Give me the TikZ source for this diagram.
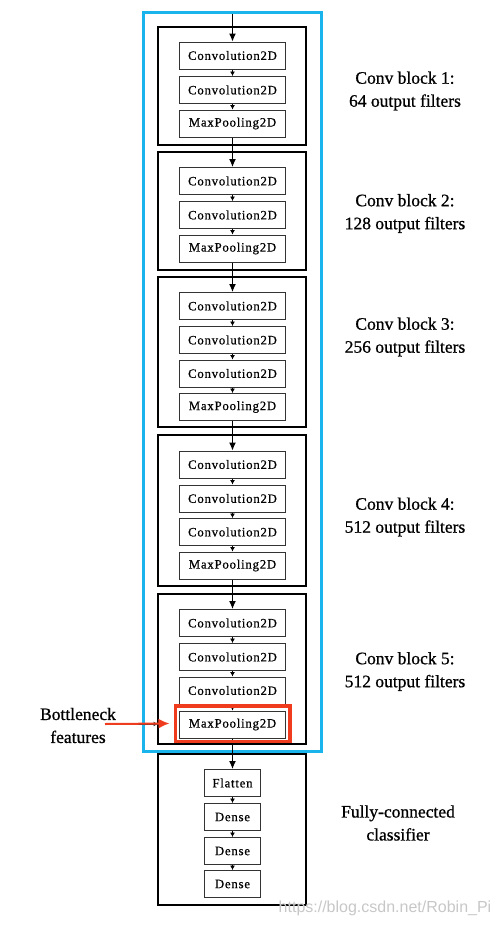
\documentclass[tikz,border=0pt]{standalone}
\usepackage{fontspec}
\setmainfont{Liberation Serif}
\setsansfont{Liberation Sans}
\newfontfamily\layerfont[LetterSpace=6,FakeBold=0.6]{Liberation Serif}
\newfontfamily\capfont[FakeBold=0.8]{Liberation Serif}
\usetikzlibrary{arrows.meta}
\tikzset{>=latex}
\definecolor{VGGcol}{RGB}{25,180,235}
\definecolor{BNcol}{RGB}{240,60,30}
\tikzstyle{layer}=[draw=black!80,line width=1,minimum width=106,minimum height=27,inner sep=0,font=\layerfont\fontsize{12.8}{14}\selectfont]
\tikzstyle{dense}=[layer,minimum width=56]
\tikzstyle{frame}=[draw=black,line width=1.4]
\tikzstyle{flow}=[-{Latex[length=8pt,width=7pt]},line width=1]
\tikzstyle{link}=[-{Latex[length=4.5pt,width=5pt]},line width=0.8]
\tikzstyle{caption}=[font=\capfont\fontsize{17.5}{23}\selectfont,align=center]
\def\xc{232.5}
\def\xl{405}

\begin{document}
\begin{tikzpicture}[x=1pt,y=-1pt]
  \useasboundingbox (0,0) rectangle (500,926);

  % BLOCK FRAMES
  \draw[VGGcol,line width=3] (143,12) rectangle (321,751);
  \draw[frame] (158,27)  rectangle (306,145);
  \draw[frame] (158,152) rectangle (306,270);
  \draw[frame] (158,277) rectangle (306,427);
  \draw[frame] (158,435) rectangle (306,586);
  \draw[frame] (158,594) rectangle (306,744);
  \draw[frame] (158,754) rectangle (306,905);

  % LAYERS
  \node[layer] (c11) at (\xc,55.5)  {Convolution2D};
  \node[layer] (c12) at (\xc,90)    {Convolution2D};
  \node[layer] (p1)  at (\xc,123.5) {MaxPooling2D};

  \node[layer] (c21) at (\xc,181)   {Convolution2D};
  \node[layer] (c22) at (\xc,215)   {Convolution2D};
  \node[layer] (p2)  at (\xc,248.5) {MaxPooling2D};

  \node[layer] (c31) at (\xc,306)   {Convolution2D};
  \node[layer] (c32) at (\xc,340)   {Convolution2D};
  \node[layer] (c33) at (\xc,373.5) {Convolution2D};
  \node[layer] (p3)  at (\xc,407)   {MaxPooling2D};

  \node[layer] (c41) at (\xc,464.5) {Convolution2D};
  \node[layer] (c42) at (\xc,498.5) {Convolution2D};
  \node[layer] (c43) at (\xc,532)   {Convolution2D};
  \node[layer] (p4)  at (\xc,565.5) {MaxPooling2D};

  \node[layer] (c51) at (\xc,623)   {Convolution2D};
  \node[layer] (c52) at (\xc,657)   {Convolution2D};
  \node[layer] (c53) at (\xc,690.5) {Convolution2D};
  \node[layer] (p5)  at (\xc,724.5) {MaxPooling2D};

  \node[dense] (fl) at (\xc,783) {Flatten};
  \node[dense] (d1) at (\xc,817) {Dense};
  \node[dense] (d2) at (\xc,851) {Dense};
  \node[dense] (d3) at (\xc,884) {Dense};

  % ARROWS
  \coordinate (in) at (\xc,14);
  \draw[flow] (in) -- (c11);
  \draw[link] (c11) -- (c12);
  \draw[link] (c12) -- (p1);
  \draw[flow] (p1) -- (c21);
  \draw[link] (c21) -- (c22);
  \draw[link] (c22) -- (p2);
  \draw[flow] (p2) -- (c31);
  \draw[link] (c31) -- (c32);
  \draw[link] (c32) -- (c33);
  \draw[link] (c33) -- (p3);
  \draw[flow] (p3) -- (c41);
  \draw[link] (c41) -- (c42);
  \draw[link] (c42) -- (c43);
  \draw[link] (c43) -- (p4);
  \draw[flow] (p4) -- (c51);
  \draw[link] (c51) -- (c52);
  \draw[link] (c52) -- (c53);
  \draw[link] (c53) -- (p5);
  \draw[flow] (p5) -- (fl);
  \draw[link] (fl) -- (d1);
  \draw[link] (d1) -- (d2);
  \draw[link] (d2) -- (d3);

  % BOTTLENECK
  \node[draw=BNcol,line width=3.5,minimum width=114.5,minimum height=35.5,inner sep=0] (bn) at (\xc,723.5) {};
  \node[caption] (bt) at (78,725.5) {Bottleneck\\features};
  \coordinate (bt-r) at (105,724);
  \coordinate (bt-k) at (136,724);
  \coordinate (bt-h) at (158,724);
  \draw[link,black!80] (bt-k) -- (bt-h);
  \draw[-{Latex[length=11pt,width=10pt]},BNcol,line width=2] (bt-r) -- ([xshift=-4]bn.west);

  % CAPTIONS
  \node[caption] (l1) at (\xl,91)    {Conv block 1:\\64 output filters};
  \node[caption] (l2) at (\xl,213.5) {Conv block 2:\\128 output filters};
  \node[caption] (l3) at (\xl,337)   {Conv block 3:\\256 output filters};
  \node[caption] (l4) at (\xl,517)   {Conv block 4:\\512 output filters};
  \node[caption] (l5) at (\xl,671.5) {Conv block 5:\\512 output filters};
  \node[caption] (l6) at (398,823)   {Fully-connected\\classifier};

  \node[font=\sffamily\fontsize{16}{18}\selectfont,text=black!22] (wm) at (385,908) {https://blog.csdn.net/Robin\_Pi};
\end{tikzpicture}
\end{document}
